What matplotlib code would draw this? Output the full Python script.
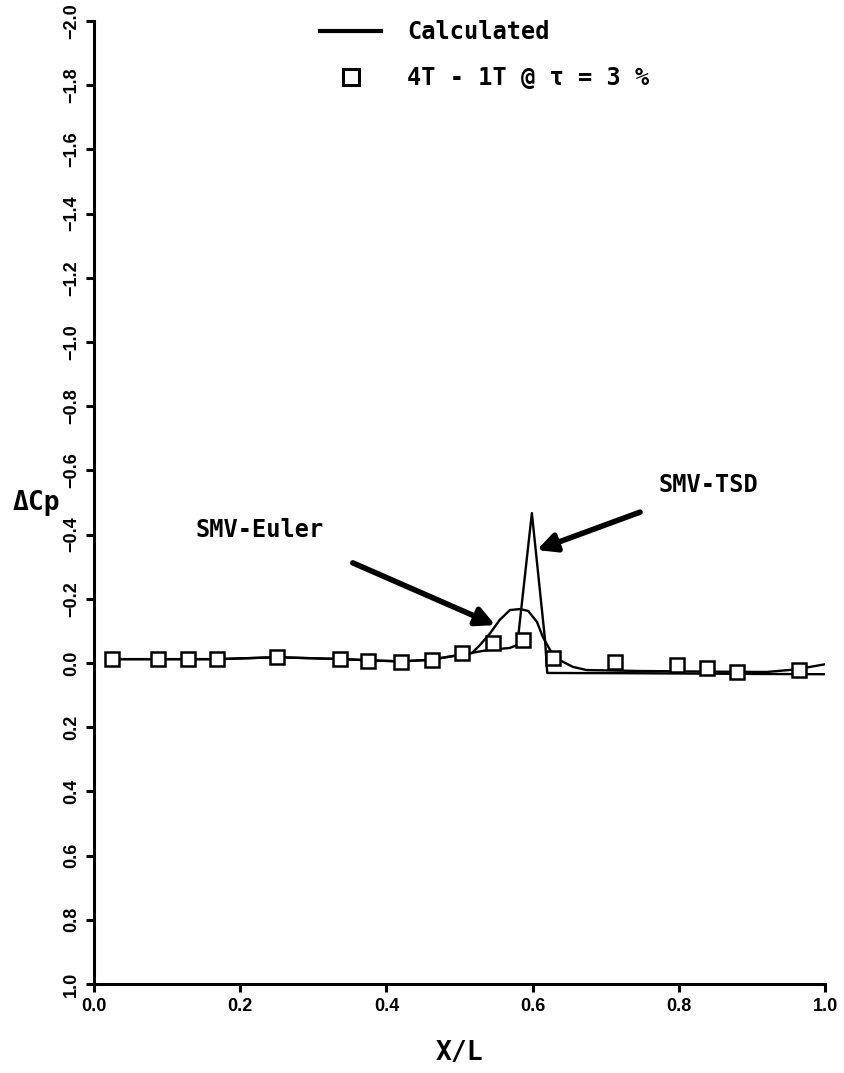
import matplotlib
matplotlib.use("Agg")
import matplotlib.pyplot as plt
from matplotlib.lines import Line2D

# test data (4T - 1T @ tau = 3 %)
test_x = [0.025, 0.088, 0.129, 0.168, 0.250, 0.337, 0.375, 0.420, 0.462,
          0.503, 0.546, 0.587, 0.628, 0.713, 0.798, 0.839, 0.880, 0.964]
test_dcp = [-0.012, -0.012, -0.012, -0.012, -0.019, -0.012, -0.006, -0.003, -0.009,
            -0.031, -0.062, -0.072, -0.016, -0.003, 0.006, 0.016, 0.028, 0.022]

# calculated curves, common forward part
fwd_x = [0.02, 0.09, 0.13, 0.17, 0.25, 0.34, 0.38, 0.42, 0.46, 0.50]
fwd_dcp = [-0.012, -0.012, -0.012, -0.012, -0.018, -0.012, -0.008, -0.005, -0.010, -0.025]

euler_x = fwd_x + [0.517, 0.528, 0.542, 0.555, 0.569, 0.583, 0.594, 0.606, 0.614,
                   0.624, 0.637, 0.655, 0.674, 0.75, 0.85, 0.92, 0.96, 1.0]
euler_dcp = fwd_dcp + [-0.031, -0.056, -0.093, -0.134, -0.165, -0.168, -0.162, -0.128, -0.081,
                       -0.040, -0.009, 0.012, 0.022, 0.025, 0.027, 0.028, 0.020, 0.004]

tsd_x = fwd_x + [0.538, 0.569, 0.579, 0.599, 0.617, 0.620, 0.75, 0.90, 1.0]
tsd_dcp = fwd_dcp + [-0.040, -0.047, -0.056, -0.467, -0.072, 0.031, 0.032, 0.034, 0.035]

xticks = [0.0, 0.2, 0.4, 0.6, 0.8, 1.0]
yticks = [-2.0, -1.8, -1.6, -1.4, -1.2, -1.0, -0.8, -0.6, -0.4, -0.2,
          0.0, 0.2, 0.4, 0.6, 0.8, 1.0]

mono = "DejaVu Sans Mono"
tickfont = "Liberation Sans"

fig = plt.figure(figsize=(8.45, 10.73), dpi=100)
ax = fig.add_axes([94 / 845, 89 / 1073, 731 / 845, 963 / 1073])

ax.plot(euler_x, euler_dcp, color="black", lw=1.7)
ax.plot(tsd_x, tsd_dcp, color="black", lw=1.7)
ax.plot(test_x, test_dcp, linestyle="none", marker="s", markersize=10.5,
        markerfacecolor="white", markeredgecolor="black", markeredgewidth=1.8)

ax.set_xlim(0.0, 1.0)
ax.set_ylim(1.0, -2.0)
ax.set_xticks(xticks)
ax.set_yticks(yticks)
ax.set_xticklabels([f"{v:.1f}" for v in xticks], fontfamily=tickfont,
                   fontweight="bold", fontsize=13)
ax.set_yticklabels([f"{v:.1f}".replace("-", "\u2212") for v in yticks],
                   fontfamily=tickfont, fontweight="bold", fontsize=13,
                   rotation=90, va="center")

for side in ["top", "right"]:
    ax.spines[side].set_visible(False)
for side in ["left", "bottom"]:
    ax.spines[side].set_linewidth(2.2)
ax.tick_params(direction="out", length=6, width=2.2, pad=4)

ax.set_xlabel("X/L", fontfamily=mono, fontweight="bold", fontsize=19, labelpad=18)
fig.text(36 / 845, 1 - 503 / 1073, "\u0394Cp", fontfamily=mono, fontweight="bold",
         fontsize=19, ha="center", va="center")

arrow = dict(arrowstyle="-|>", lw=4, color="black", mutation_scale=28,
             shrinkA=0, shrinkB=0)
ax.annotate("", xy=(0.549, -0.118), xytext=(0.354, -0.312), arrowprops=arrow)
ax.annotate("", xy=(0.606, -0.352), xytext=(0.747, -0.470), arrowprops=arrow)
ax.text(0.227, -0.414, "SMV-Euler", fontfamily=mono, fontweight="bold",
        fontsize=17, ha="center", va="center")
ax.text(0.840, -0.555, "SMV-TSD", fontfamily=mono, fontweight="bold",
        fontsize=17, ha="center", va="center")

handles = [
    Line2D([], [], color="black", lw=3),
    Line2D([], [], linestyle="none", marker="s", markersize=11,
           markerfacecolor="white", markeredgecolor="black", markeredgewidth=2.2),
]
ax.legend(handles, ["Calculated", "4T - 1T @ \u03c4 = 3 %"],
          loc="upper left", bbox_to_anchor=(320 / 845, 1 - 20 / 1073),
          bbox_transform=fig.transFigure, frameon=False, borderpad=0,
          borderaxespad=0, handlelength=2.6, handletextpad=1.1,
          labelspacing=0.95, prop=dict(family=mono, weight="bold", size=17))

fig.savefig("out.png", dpi=100)
